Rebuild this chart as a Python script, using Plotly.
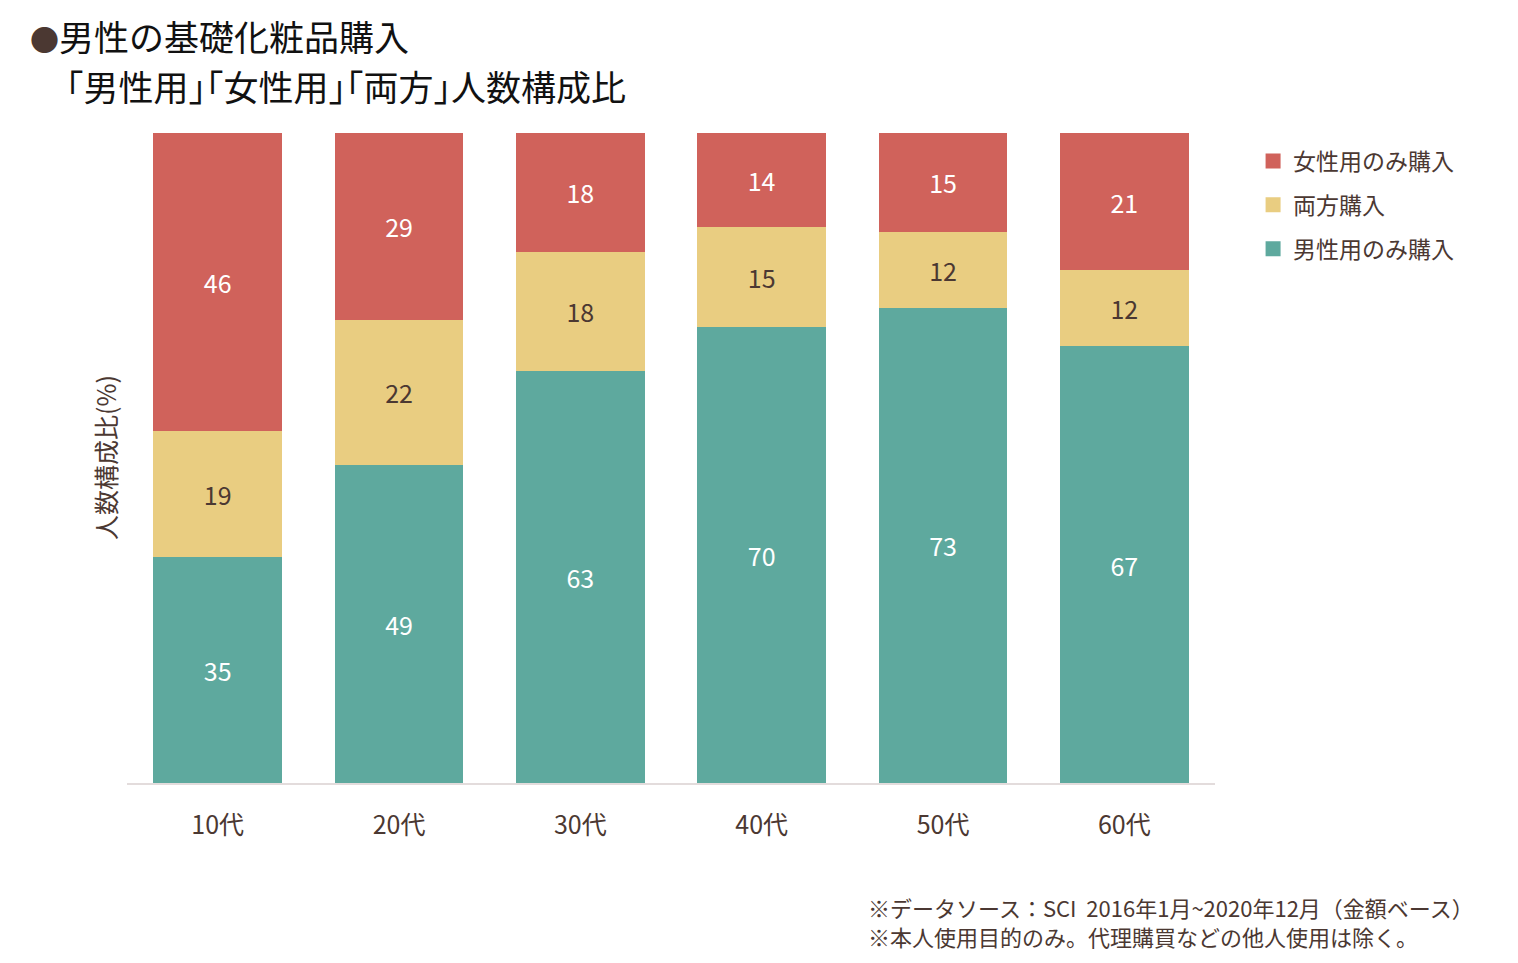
import plotly.graph_objects as go

categories = ["10代", "20代", "30代", "40代", "50代", "60代"]
male_only = [34.8, 48.9, 63.4, 70.2, 73.1, 67.2]
both = [19.4, 22.4, 18.3, 15.4, 11.7, 11.7]
female_only = [45.8, 28.7, 18.3, 14.4, 15.2, 21.1]
series_names = ["男性用のみ購入", "両方購入", "女性用のみ購入"]

FONT = "Noto Sans CJK JP"
BROWN = "#4b3832"
GREEN = "#5ea99e"
YELLOW = "#e9cd81"
RED = "#d0625b"
colors = [GREEN, YELLOW, RED]
label_colors = ["white", BROWN, "white"]

fig = go.Figure()
for vals, name, col, lcol in zip([male_only, both, female_only], series_names, colors, label_colors):
    fig.add_trace(go.Bar(x=categories, y=vals, name=name, marker_color=col, marker_line_width=0,
                         texttemplate="%{y:.0f}", textposition="inside", insidetextanchor="middle",
                         textfont=dict(color=lcol, size=25, family=FONT), showlegend=False))
# legend entries (square markers, red first)
for rank, (name, col) in enumerate(zip(series_names[::-1], colors[::-1])):
    fig.add_trace(go.Scatter(x=[None], y=[None], mode="markers", name=name,
                             marker=dict(symbol="square", size=15, color=col),
                             legendrank=rank + 1, legendgroup=name, showlegend=True))

plot_left, plot_w, plot_bottom, plot_h = 127, 1088, 783, 650
def px(xp, yp):
    return (xp - plot_left) / plot_w, (plot_bottom - yp) / plot_h

t1x, t1y = px(28, 35)
t2x, t2y = px(64, 86)
f1x, f1y = px(866, 907)
f2x, f2y = px(866, 936)
yx, yy = px(105, 458)

fig.update_layout(
    width=1518, height=963,
    margin=dict(l=127, r=303, t=133, b=180),
    barmode="stack", bargap=0.29,
    plot_bgcolor="white", paper_bgcolor="white",
    font=dict(family=FONT, color=BROWN),
    showlegend=True,
    legend=dict(x=1.035, xanchor="left", y=0.99, yanchor="top", traceorder="grouped",
                tracegroupgap=11, font=dict(size=23, color=BROWN, family=FONT),
                itemwidth=30, itemsizing="trace"),
    xaxis=dict(showline=True, linecolor="#e3dcdc", linewidth=2, ticks="", ticklabelstandoff=19,
               tickfont=dict(size=25, color=BROWN, family=FONT)),
    yaxis=dict(range=[0, 100], showticklabels=False, showgrid=False, zeroline=False),
    annotations=[
        dict(xref="paper", yref="paper", x=t1x, y=t1y, xanchor="left", yanchor="middle",
             text=f"<span style='color:{BROWN};font-size:29px'>●</span>男性の基礎化粧品購入",
             showarrow=False, font=dict(size=35, color="#111111", family=FONT)),
        dict(xref="paper", yref="paper", x=t2x, y=t2y, xanchor="left", yanchor="middle",
             text="｢男性用｣｢女性用｣｢両方｣人数構成比",
             showarrow=False, font=dict(size=35, color="#111111", family=FONT)),
        dict(xref="paper", yref="paper", x=yx, y=yy, xanchor="center", yanchor="middle",
             text="人数構成比(%)", textangle=-90, showarrow=False,
             font=dict(size=25, color=BROWN, family=FONT)),
        dict(xref="paper", yref="paper", x=f1x, y=f1y, xanchor="left", yanchor="middle",
             text="※データソース：SCI\u00a0 2016年1月~2020年12月（金額ベース）",
             showarrow=False, align="left", font=dict(size=22, color=BROWN, family=FONT)),
        dict(xref="paper", yref="paper", x=f2x, y=f2y, xanchor="left", yanchor="middle",
             text="※本人使用目的のみ。代理購買などの他人使用は除く。",
             showarrow=False, align="left", font=dict(size=22, color=BROWN, family=FONT)),
    ],
)
fig.write_html("out.html")
